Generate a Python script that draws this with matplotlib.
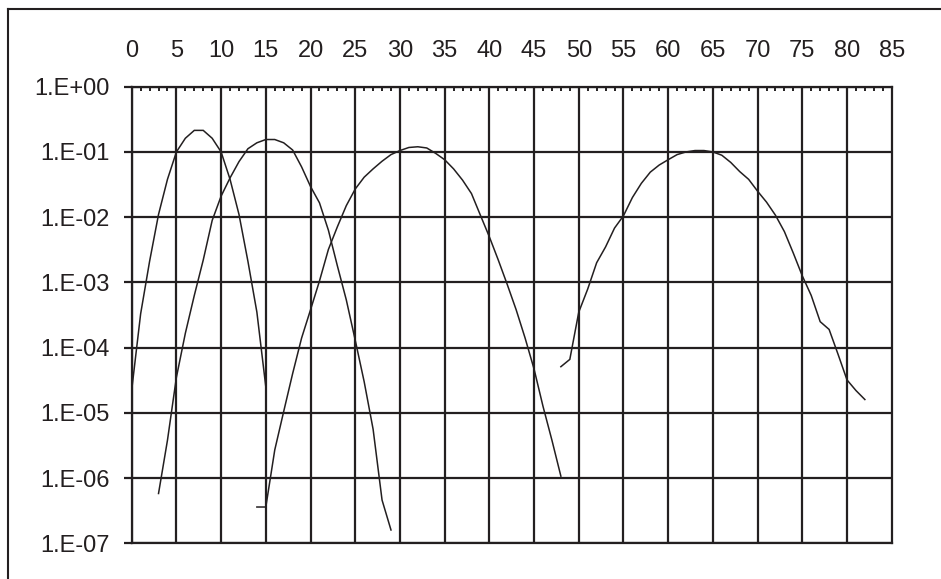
import matplotlib
matplotlib.use("Agg")
import matplotlib.pyplot as plt
from matplotlib.lines import Line2D
from matplotlib.ticker import FixedLocator, NullLocator, NullFormatter

plt.rcParams['font.family'] = ['Liberation Sans', 'DejaVu Sans']

INK = '#231f20'

# ---- data ----
x1 = list(range(0, 16))
y1 = [2.24e-5, 3.3e-4, 2.1e-3, 1.1e-2, 3.8e-2, 1.0e-1, 1.62e-1, 2.14e-1,
      2.14e-1, 1.62e-1, 1.0e-1, 3.8e-2, 1.1e-2, 2.1e-3, 3.5e-4, 2.5e-5]

x2 = list(range(3, 30))
y2 = [5.8e-7, 3.8e-6, 3.5e-5, 1.66e-4, 6.3e-4, 2.2e-3, 8.9e-3, 2.1e-2,
      4.0e-2, 7.1e-2, 1.12e-1, 1.38e-1, 1.55e-1, 1.55e-1, 1.38e-1, 1.07e-1,
      5.9e-2, 2.95e-2, 1.66e-2, 6.3e-3, 1.8e-3, 5.4e-4, 1.3e-4, 3.0e-5,
      5.6e-6, 4.6e-7, 1.6e-7]

x3 = list(range(14, 49))
y3 = [3.6e-7, 3.6e-7, 2.7e-6, 1.05e-5, 4.0e-5, 1.4e-4, 3.8e-4, 1.05e-3,
      3.2e-3, 7.1e-3, 1.5e-2, 2.7e-2, 4.1e-2, 5.5e-2, 7.2e-2, 9.1e-2,
      1.05e-1, 1.17e-1, 1.2e-1, 1.15e-1, 9.5e-2, 7.6e-2, 5.5e-2, 3.7e-2,
      2.3e-2, 1.07e-2, 5.0e-3, 2.2e-3, 9.3e-4, 3.8e-4, 1.4e-4, 4.7e-5,
      1.26e-5, 3.8e-6, 1.07e-6]

x4 = list(range(48, 83))
y4 = [5.1e-5, 6.6e-5, 3.5e-4, 7.9e-4, 2.0e-3, 3.5e-3, 6.8e-3, 1.05e-2,
      2.0e-2, 3.3e-2, 4.9e-2, 6.3e-2, 7.6e-2, 9.1e-2, 1.0e-1, 1.05e-1,
      1.05e-1, 1.0e-1, 8.9e-2, 6.9e-2, 5.0e-2, 3.8e-2, 2.5e-2, 1.7e-2,
      1.07e-2, 6.0e-3, 2.8e-3, 1.26e-3, 6.3e-4, 2.5e-4, 1.9e-4, 7.9e-5,
      3.2e-5, 2.2e-5, 1.6e-5]

x_ticks = list(range(0, 90, 5))
x_tick_labels = [str(v) for v in x_ticks]
y_ticks = [1e0, 1e-1, 1e-2, 1e-3, 1e-4, 1e-5, 1e-6, 1e-7]
y_tick_labels = ['1.E+00', '1.E-01', '1.E-02', '1.E-03',
                 '1.E-04', '1.E-05', '1.E-06', '1.E-07']

# ---- figure ----
W, H = 941, 579
fig = plt.figure(figsize=(W / 100, H / 100), dpi=100)
fig.patch.set_facecolor('white')

left, right, top, bottom = 131.7, 891.7, 86.7, 543.3
ax = fig.add_axes([left / W, 1 - bottom / H, (right - left) / W, (bottom - top) / H])
ax.set_yscale('log')
ax.set_xlim(0, 85)
ax.set_ylim(1e-7, 1e0)

# grid
ax.set_axisbelow(True)
for xv in x_ticks[:-1]:
    ax.axvline(xv, color=INK, lw=1.6, zorder=1)
for yv in y_ticks:
    ax.axhline(yv, color=INK, lw=1.6, zorder=1)

# curves
for xs, ys in [(x1, y1), (x2, y2), (x3, y3), (x4, y4)]:
    ax.plot(xs, ys, color=INK, lw=1.1, zorder=3, solid_joinstyle='miter')

# spines
for s in ax.spines.values():
    s.set_color(INK)
    s.set_linewidth(1.6)

# x axis on top
ax.xaxis.tick_top()
ax.xaxis.set_major_locator(FixedLocator(x_ticks))
ax.set_xticklabels(x_tick_labels)
ax.xaxis.set_minor_locator(FixedLocator([v for v in range(0, 86) if v % 5 != 0]))
ax.tick_params(axis='x', which='major', length=0, pad=18, labelsize=17, colors=INK)
ax.tick_params(axis='x', which='minor', direction='in', length=3.2, width=1.4,
               color=INK, top=True, bottom=False)

# y axis
ax.yaxis.set_major_locator(FixedLocator(y_ticks))
ax.set_yticklabels(y_tick_labels)
ax.yaxis.set_minor_locator(NullLocator())
ax.yaxis.set_minor_formatter(NullFormatter())
ax.tick_params(axis='y', which='major', direction='out', length=5.5, width=1.6,
               pad=10.5, labelsize=17, colors=INK)

# outer frame (partially visible)
fx = 8 / W
fy = 1 - 9 / H
fig.add_artist(Line2D([fx, fx], [0, fy], color=INK, lw=1.5, transform=fig.transFigure))
fig.add_artist(Line2D([fx, 1], [fy, fy], color=INK, lw=1.5, transform=fig.transFigure))

fig.savefig('out.png', dpi=100, facecolor='white')
